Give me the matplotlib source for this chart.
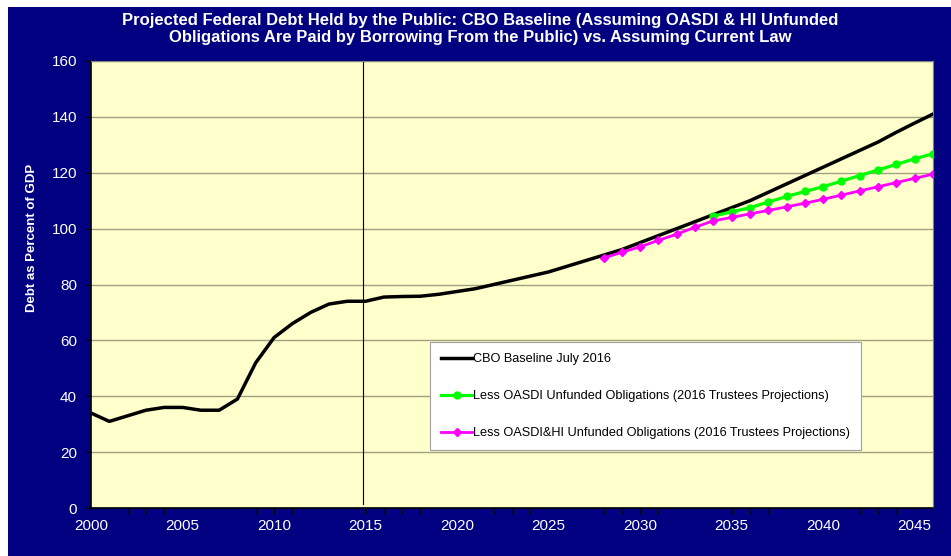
import matplotlib
matplotlib.use("Agg")
import matplotlib.pyplot as plt
from matplotlib.patches import Rectangle
from matplotlib.ticker import MultipleLocator

plt.rcParams['font.family'] = ['Liberation Sans', 'DejaVu Sans']

# CBO baseline, debt held by public (% of GDP)
years = list(range(2000, 2047))
cbo = [34, 31, 33, 35, 36, 36, 35, 35, 39, 52,
       61, 66, 70, 73, 74, 74, 75.5, 75.7, 75.8, 76.5,
       77.5, 78.5, 80, 81.5, 83, 84.5, 86.5, 88.5, 90.5, 92.5,
       95, 97.5, 100, 102.5, 105, 107.5, 110, 113, 116, 119,
       122, 125, 128, 131, 134.5, 137.8, 141]

oasdi_years = list(range(2034, 2047))
oasdi = [104.5, 106, 107.5, 109.5, 111.5, 113.3, 115, 117, 119, 121, 123, 125, 126.8]

hi_years = list(range(2028, 2047))
oasdi_hi = [89.5, 91.5, 93.5, 95.8, 98, 100.5, 102.8, 104, 105.3, 106.5,
            107.8, 109.1, 110.5, 112, 113.5, 115, 116.5, 118, 119.5]

title = ("Projected Federal Debt Held by the Public: CBO Baseline (Assuming OASDI & HI Unfunded\n"
         "Obligations Are Paid by Borrowing From the Public) vs. Assuming Current Law")

navy = '#000080'
fig = plt.figure(figsize=(9.51, 5.56), dpi=100)
fig.patch.set_facecolor('white')
fig.patches.append(Rectangle((8 / 951, 0), 1, 1 - 7 / 556, transform=fig.transFigure,
                             facecolor=navy, edgecolor='none', zorder=-10))

ax = fig.add_axes([91 / 951, 48 / 556, 842 / 951, 447 / 556])
ax.set_facecolor('#FFFFCC')

ax.plot(years, cbo, color='black', lw=2.5, label='CBO Baseline July 2016', zorder=3)
ax.plot(oasdi_years, oasdi, color='#00FF00', lw=2.3, marker='o', ms=5,
        label='Less OASDI Unfunded Obligations (2016 Trustees Projections)', zorder=4)
ax.plot(hi_years, oasdi_hi, color='#FF00FF', lw=2, marker='D', ms=4,
        label='Less OASDI&HI Unfunded Obligations (2016 Trustees Projections)', zorder=5)

ax.plot([2014.85, 2014.85], [1.5, 160], color='black', lw=0.8, zorder=2)

ax.set_xlim(2000, 2046)
ax.set_ylim(0, 160)
ax.xaxis.set_major_locator(MultipleLocator(5))
ax.xaxis.set_minor_locator(MultipleLocator(1))
ax.yaxis.set_major_locator(MultipleLocator(20))
ax.grid(axis='y', color='#A0A080', lw=1, zorder=1)
ax.set_axisbelow(True)

ax.tick_params(axis='both', which='both', colors='black', labelcolor='white', labelsize=11)
ax.tick_params(axis='x', which='major', length=4, pad=4)
ax.tick_params(axis='x', which='minor', length=4)
ax.tick_params(axis='y', length=4, pad=6)

for side in ['top', 'right']:
    ax.spines[side].set_color('#808080')
for side in ['left', 'bottom']:
    ax.spines[side].set_color('black')
    ax.spines[side].set_linewidth(1.2)

leg = ax.legend(loc='lower left', bbox_to_anchor=(0.403, 0.13), fontsize=9.2,
                frameon=True, fancybox=False, edgecolor='#A0A0A0', framealpha=1,
                handlelength=2.4, handletextpad=0.1, labelspacing=1.95,
                borderpad=0.85, borderaxespad=0)
leg.get_frame().set_linewidth(0.8)

fig.text(0.505, 0.948, title, ha='center', va='center', color='white',
         fontsize=12, fontweight='bold', linespacing=1.1)
fig.text(0.034, 0.572, 'Debt as Percent of GDP', ha='center', va='center', rotation=90,
         color='white', fontsize=9.5, fontweight='bold')

fig.savefig('out.png', dpi=100, facecolor=fig.get_facecolor())
